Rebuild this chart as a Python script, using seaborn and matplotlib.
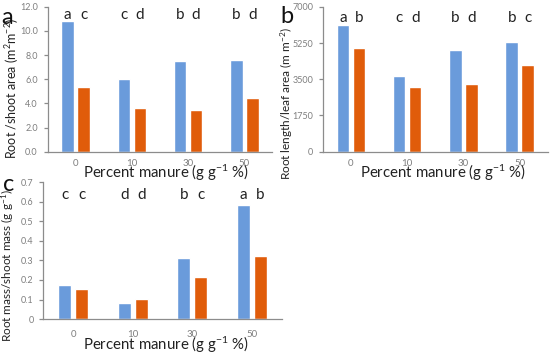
import matplotlib
matplotlib.use("Agg")
import matplotlib.pyplot as plt
import seaborn as sns
import pandas as pd

# categories (percent manure) and the two unnamed series
manure = ["0", "10", "30", "50"]
series = ["Series 1", "Series 2"]

# a: root/shoot area
area_s1 = [10.86, 5.99, 7.51, 7.56]
area_s2 = [5.36, 3.66, 3.46, 4.44]
# b: root length/leaf area
length_s1 = [6100, 3660, 4920, 5290]
length_s2 = [5000, 3130, 3290, 4170]
# c: root mass/shoot mass
mass_s1 = [0.173, 0.080, 0.314, 0.584]
mass_s2 = [0.156, 0.102, 0.216, 0.323]

# significance letters, per category: (series 1, series 2)
letters_a = [("a", "c"), ("c", "d"), ("b", "d"), ("b", "d")]
letters_b = [("a", "b"), ("c", "d"), ("b", "d"), ("b", "c")]
letters_c = [("c", "c"), ("d", "d"), ("b", "c"), ("a", "b")]

yticks_a = [0, 2, 4, 6, 8, 10, 12]
yticks_b = [0, 1750, 3500, 5250, 7000]
yticks_c = [0, 0.1, 0.2, 0.3, 0.4, 0.5, 0.6, 0.7]

BLUE = "#6a9bdb"
ORANGE = "#e05c0a"
GREY = "#8c8c8c"
TEXT = "#222222"

sns.set_theme(style="white")
plt.rcParams["font.family"] = ["Lato", "DejaVu Sans"]
plt.rcParams["mathtext.fontset"] = "custom"
plt.rcParams["mathtext.rm"] = "Lato"


def long_df(s1, s2):
    return pd.DataFrame({
        "manure": manure * 2,
        "series": [series[0]] * 4 + [series[1]] * 4,
        "value": list(s1) + list(s2),
    })


def draw_panel(ax, s1, s2, letters, yticks, fmt, letter_y, ylabel, ylab_size,
               tag, tag_xy, ylab_xy, xlab_xy, xtick_pad):
    df = long_df(s1, s2)
    sns.barplot(data=df, x="manure", y="value", hue="series", ax=ax,
                palette=[BLUE, ORANGE], width=0.57, gap=0.22,
                legend=False, saturation=1, errorbar=None)
    ax.set_ylim(yticks[0], yticks[-1])
    ax.set_xlim(-0.5, 3.5)
    ax.set_yticks(yticks)
    ax.set_yticklabels([fmt(t) for t in yticks])
    for side in ["top", "right"]:
        ax.spines[side].set_visible(False)
    for side in ["left", "bottom"]:
        ax.spines[side].set_color(GREY)
        ax.spines[side].set_linewidth(0.9)
    ax.tick_params(axis="y", left=True, length=3, width=0.9, color=GREY,
                   labelsize=6.5, labelcolor="#7f7f7f", pad=4)
    ax.tick_params(axis="x", bottom=False, length=0, labelsize=7,
                   labelcolor="#7f7f7f", pad=xtick_pad)

    bars = sorted(ax.patches, key=lambda p: p.get_x())
    flat = [l for pair in letters for l in pair]
    for p, lab in zip(bars, flat):
        ax.text(p.get_x() + p.get_width() / 2, letter_y, lab, ha="center",
                va="center", fontsize=11, color=TEXT)

    ax.set_ylabel(ylabel, fontsize=ylab_size, color=TEXT)
    ax.yaxis.set_label_coords(*ylab_xy)
    ax.yaxis.label.set_verticalalignment("center")
    ax.set_xlabel("Percent manure (g g$\\mathregular{^{-1}}$ %)", fontsize=10.8,
                  color=TEXT)
    ax.xaxis.set_label_coords(*xlab_xy)
    ax.xaxis.label.set_verticalalignment("center")
    ax.text(tag_xy[0], tag_xy[1], tag, transform=ax.transAxes, fontsize=17,
            color="#111111", ha="center", va="center")


fig = plt.figure(figsize=(5.5, 3.57), dpi=100)
ax_a = fig.add_axes([0.0864, 0.575, 0.409, 0.406])
ax_b = fig.add_axes([0.587, 0.575, 0.409, 0.406])
ax_c = fig.add_axes([0.079, 0.106, 0.433, 0.384])

draw_panel(ax_a, area_s1, area_s2, letters_a, yticks_a,
           lambda t: f"{t:.1f}", 11.3,
           "Root /shoot area (m$\\mathregular{^{2}}$m$\\mathregular{^{-2}}$)", 9.0,
           "a", (-0.18, 0.925), (-0.156, 0.44), (0.525, -0.147), 5)
draw_panel(ax_b, length_s1, length_s2, letters_b, yticks_b,
           lambda t: f"{t:d}", 6440,
           "Root length/leaf area (m m$\\mathregular{^{-2}}$)", 8.5,
           "b", (-0.16, 0.93), (-0.16, 0.33), (0.535, -0.147), 5)
draw_panel(ax_c, mass_s1, mass_s2, letters_c, yticks_c,
           lambda t: "0" if t == 0 else f"{t:.1f}", 0.634,
           "Root mass/shoot mass (g g$\\mathregular{^{-1}}$)", 8.5,
           "c", (-0.145, 0.98), (-0.151, 0.387), (0.513, -0.19), 7.5)

fig.savefig("out.png", dpi=100)
